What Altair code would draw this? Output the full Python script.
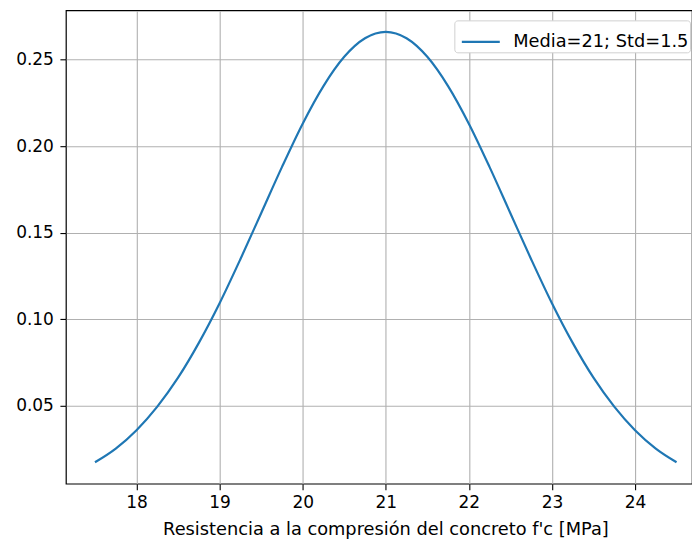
import altair as alt
import pandas as pd

# Values
x_vals = [17.5, 17.75, 18.0, 18.25, 18.5, 18.75, 19.0, 19.25, 19.5, 19.75,
          20.0, 20.25, 20.5, 20.75, 21.0, 21.25, 21.5, 21.75, 22.0, 22.25,
          22.5, 22.75, 23.0, 23.25, 23.5, 23.75, 24.0, 24.25, 24.5]
y_vals = [0.0175, 0.0254, 0.0360, 0.0496, 0.0663, 0.0864, 0.1093, 0.1347, 0.1613, 0.1879,
          0.2130, 0.2347, 0.2516, 0.2623, 0.2660, 0.2623, 0.2516, 0.2347, 0.2130, 0.1879,
          0.1613, 0.1347, 0.1093, 0.0864, 0.0663, 0.0496, 0.0360, 0.0254, 0.0175]
series_label = "Media=21; Std=1.5"
x_ticks = [18, 19, 20, 21, 22, 23, 24]
y_ticks = [0.05, 0.10, 0.15, 0.20, 0.25]

df = pd.DataFrame({"x": x_vals, "y": y_vals, "serie": [series_label] * len(x_vals)})

FONT = "DejaVu Sans"
FS = 17
FS_T = 17.8

chart = alt.Chart(df).mark_line(strokeWidth=2.2, interpolate="monotone", clip=True).encode(
    x=alt.X("x:Q",
            scale=alt.Scale(domain=[17.15, 24.686], nice=False, zero=False),
            axis=alt.Axis(values=x_ticks, title="Resistencia a la compresión del concreto f'c [MPa]",
                          titleX=320, titleY=51, titleBaseline="alphabetic",
                          titleAnchor="middle", labelPadding=5)),
    y=alt.Y("y:Q",
            scale=alt.Scale(domain=[0.0051, 0.2784], nice=False, zero=False),
            axis=alt.Axis(values=y_ticks, format=".2f", title=None, labelPadding=6.5)),
    color=alt.Color("serie:N",
                    scale=alt.Scale(range=["#1f77b4"]),
                    legend=alt.Legend(title=None, orient="none", legendX=389, legendY=10,
                                      symbolType="stroke", symbolSize=1444, symbolStrokeWidth=2.2,
                                      symbolOffset=5,
                                      labelFontSize=FS_T, labelFont=FONT, labelColor="#000000",
                                      labelOffset=12, labelLimit=500,
                                      strokeColor="#d0d0d0", fillColor="#ffffff",
                                      cornerRadius=3, padding=1)),
).properties(
    width=627,
    height=474,
    background="#ffffff",
    autosize=alt.AutoSizeParams(type="none"),
    padding={"left": 66, "top": 10, "right": 0, "bottom": 60},
).configure_view(
    stroke="#000000", strokeWidth=1.2
).configure_axis(
    grid=True, gridColor="#b0b0b0", gridWidth=1.1,
    domain=False,
    tickColor="#000000", tickSize=6, tickWidth=1.1,
    labelFont=FONT, labelFontSize=FS, labelColor="#000000",
    titleFont=FONT, titleFontSize=FS_T, titleFontWeight="normal", titleColor="#000000",
)

chart.save("out.html", embed_options={"renderer": "svg", "actions": False})
